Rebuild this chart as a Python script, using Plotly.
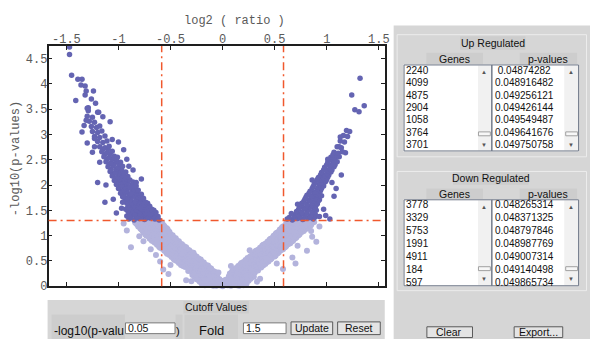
import numpy as np
import plotly.graph_objects as go

W, H = 595, 347

# ---------------- data ----------------
fold_cutoff = 1.5
p_cutoff = 0.05

x_tickvals = [-1.5, -1, -0.5, 0, 0.5, 1, 1.5]
x_ticktext = ["-1.5", "-1", "-0.5", "0", "0.5", "1", "1.5"]
y_tickvals = [0, 0.5, 1, 1.5, 2, 2.5, 3, 3.5, 4, 4.5]
y_ticktext = ["0", "0.5", "1", "1.5", "2", "2.5", "3", "3.5", "4", "4.5"]

# non-significant genes (light)
light_pts = [
    (-0.12, -0.01), (-0.06, 0.01), (0.00, 0.00), (0.05, 0.02), (0.11, -0.01), (0.16, 0.01),
    (-0.20, 0.05), (-0.15, 0.03), (-0.09, 0.04), (-0.03, 0.05), (0.02, 0.03), (0.08, 0.05), (0.13, 0.04), (0.19, 0.06), (0.23, 0.05),
    (-0.22, 0.09), (-0.17, 0.10), (-0.11, 0.08), (-0.06, 0.10), (0.00, 0.09), (0.04, 0.11), (0.10, 0.08), (0.15, 0.10), (0.20, 0.09), (0.25, 0.11),
    (-0.25, 0.14), (-0.19, 0.15), (-0.14, 0.13), (-0.08, 0.15), (-0.03, 0.14), (0.03, 0.13), (0.08, 0.15), (0.13, 0.14), (0.18, 0.16), (0.23, 0.14), (0.27, 0.15),
    (-0.27, 0.19), (-0.22, 0.20), (-0.16, 0.18), (-0.10, 0.20), (-0.05, 0.19), (0.06, 0.20), (0.11, 0.18), (0.16, 0.20), (0.21, 0.19), (0.26, 0.21), (0.30, 0.19),
    (-0.17, 0.02), (-0.09, 0.01), (-0.03, 0.02), (0.08, 0.01), (0.14, 0.02), (0.20, 0.02),
    (-0.19, 0.07), (-0.13, 0.06), (-0.07, 0.07), (0.01, 0.06), (0.06, 0.08), (0.12, 0.07), (0.17, 0.07), (0.22, 0.08),
    (-0.23, 0.12), (-0.16, 0.12), (-0.10, 0.11), (-0.05, 0.13), (0.01, 0.11), (0.06, 0.12), (0.11, 0.12), (0.17, 0.12), (0.22, 0.11),
    (-0.24, 0.17), (-0.19, 0.18), (-0.13, 0.16), (-0.07, 0.17), (0.08, 0.17), (0.14, 0.17), (0.19, 0.18), (0.24, 0.17), (0.28, 0.18),
    (-0.29, 0.22), (-0.25, 0.23), (-0.20, 0.22), (-0.13, 0.23), (-0.07, 0.22), (0.08, 0.23), (0.13, 0.22), (0.18, 0.23), (0.24, 0.22), (0.29, 0.23),
    (-0.29, 0.26), (-0.24, 0.24), (-0.19, 0.27), (-0.14, 0.25), (-0.09, 0.23), (-0.05, 0.26),
    (0.07, 0.25), (0.12, 0.27), (0.17, 0.24), (0.22, 0.26), (0.27, 0.23), (0.31, 0.27),
    (-0.27, 0.28), (-0.22, 0.29), (-0.17, 0.28), (-0.12, 0.29), (-0.07, 0.28),
    (0.09, 0.29), (0.14, 0.28), (0.19, 0.29), (0.24, 0.28), (0.29, 0.29),
    (-0.33, 0.30), (-0.28, 0.32), (-0.23, 0.31), (-0.18, 0.29), (-0.13, 0.32), (-0.09, 0.30),
    (0.10, 0.32), (0.15, 0.30), (0.20, 0.31), (0.25, 0.33), (0.30, 0.30), (0.34, 0.31),
    (-0.31, 0.34), (-0.26, 0.35), (-0.21, 0.34), (-0.16, 0.34), (-0.11, 0.35),
    (0.12, 0.34), (0.17, 0.35), (0.22, 0.34), (0.27, 0.35), (0.32, 0.34),
    (-0.36, 0.38), (-0.31, 0.36), (-0.26, 0.37), (-0.22, 0.39), (-0.17, 0.36), (-0.13, 0.37),
    (0.13, 0.36), (0.18, 0.38), (0.23, 0.37), (0.28, 0.35), (0.33, 0.38), (0.37, 0.37),
    (-0.38, 0.40), (-0.33, 0.41), (-0.28, 0.40), (-0.23, 0.41), (-0.18, 0.40), (-0.14, 0.41),
    (0.15, 0.40), (0.20, 0.41), (0.25, 0.40), (0.30, 0.41), (0.35, 0.40), (0.39, 0.41),
    (-0.40, 0.42), (-0.35, 0.44), (-0.30, 0.43), (-0.25, 0.41), (-0.20, 0.44), (-0.16, 0.42),
    (0.17, 0.43), (0.22, 0.41), (0.27, 0.44), (0.32, 0.43), (0.37, 0.42), (0.41, 0.44),
    (-0.42, 0.46), (-0.37, 0.47), (-0.32, 0.46), (-0.27, 0.47), (-0.22, 0.46), (-0.18, 0.47),
    (0.18, 0.46), (0.23, 0.47), (0.28, 0.46), (0.33, 0.47), (0.38, 0.46), (0.42, 0.47),
    (-0.44, 0.50), (-0.39, 0.48), (-0.34, 0.49), (-0.29, 0.51), (-0.24, 0.48), (-0.20, 0.49),
    (0.20, 0.48), (0.25, 0.50), (0.30, 0.49), (0.35, 0.47), (0.40, 0.50), (0.44, 0.49),
    (-0.46, 0.52), (-0.41, 0.53), (-0.36, 0.52), (-0.31, 0.53), (-0.26, 0.52), (-0.21, 0.53),
    (0.22, 0.52), (0.27, 0.53), (0.32, 0.52), (0.37, 0.53), (0.42, 0.52), (0.46, 0.53),
    (-0.47, 0.54), (-0.42, 0.56), (-0.37, 0.55), (-0.32, 0.53), (-0.27, 0.56), (-0.23, 0.55),
    (0.24, 0.56), (0.29, 0.54), (0.34, 0.55), (0.39, 0.57), (0.44, 0.54), (0.47, 0.55),
    (-0.49, 0.58), (-0.44, 0.59), (-0.39, 0.58), (-0.34, 0.59), (-0.29, 0.58), (-0.25, 0.59),
    (0.26, 0.58), (0.31, 0.59), (0.36, 0.58), (0.41, 0.59), (0.46, 0.58), (0.50, 0.59),
    (-0.51, 0.62), (-0.46, 0.60), (-0.41, 0.61), (-0.36, 0.63), (-0.31, 0.60), (-0.27, 0.61),
    (0.27, 0.60), (0.32, 0.62), (0.37, 0.61), (0.42, 0.59), (0.47, 0.62), (0.51, 0.61),
    (-0.53, 0.64), (-0.48, 0.65), (-0.43, 0.64), (-0.38, 0.65), (-0.33, 0.64), (-0.28, 0.65),
    (0.29, 0.64), (0.34, 0.65), (0.39, 0.64), (0.44, 0.65), (0.49, 0.64), (0.53, 0.65),
    (-0.54, 0.66), (-0.49, 0.68), (-0.44, 0.67), (-0.39, 0.65), (-0.34, 0.68), (-0.30, 0.67),
    (0.31, 0.68), (0.36, 0.66), (0.41, 0.67), (0.46, 0.69), (0.50, 0.66), (0.54, 0.67),
    (-0.56, 0.70), (-0.51, 0.71), (-0.46, 0.70), (-0.41, 0.71), (-0.36, 0.70), (-0.32, 0.71),
    (0.32, 0.70), (0.37, 0.71), (0.42, 0.70), (0.47, 0.71), (0.52, 0.70), (0.56, 0.71),
    (-0.58, 0.74), (-0.53, 0.72), (-0.48, 0.73), (-0.43, 0.75), (-0.38, 0.72), (-0.34, 0.73),
    (0.34, 0.72), (0.39, 0.74), (0.44, 0.73), (0.49, 0.71), (0.54, 0.74), (0.58, 0.73),
    (-0.60, 0.76), (-0.55, 0.77), (-0.50, 0.76), (-0.45, 0.77), (-0.40, 0.76), (-0.35, 0.77),
    (0.36, 0.76), (0.41, 0.77), (0.46, 0.76), (0.51, 0.77), (0.56, 0.76), (0.60, 0.77),
    (-0.61, 0.78), (-0.56, 0.80), (-0.51, 0.79), (-0.46, 0.77), (-0.41, 0.80), (-0.37, 0.79),
    (0.38, 0.80), (0.43, 0.78), (0.48, 0.79), (0.53, 0.81), (0.57, 0.78), (0.61, 0.79),
    (-0.63, 0.82), (-0.58, 0.83), (-0.53, 0.82), (-0.48, 0.83), (-0.43, 0.82), (-0.39, 0.83),
    (0.39, 0.82), (0.44, 0.83), (0.49, 0.82), (0.54, 0.83), (0.59, 0.82), (0.63, 0.83),
    (-0.65, 0.86), (-0.60, 0.84), (-0.55, 0.85), (-0.50, 0.87), (-0.45, 0.84), (-0.41, 0.85),
    (0.41, 0.84), (0.46, 0.86), (0.51, 0.85), (0.56, 0.83), (0.61, 0.86), (0.65, 0.85),
    (-0.66, 0.88), (-0.61, 0.89), (-0.56, 0.88), (-0.51, 0.89), (-0.46, 0.88), (-0.42, 0.89),
    (0.43, 0.88), (0.48, 0.89), (0.53, 0.88), (0.58, 0.89), (0.63, 0.88), (0.67, 0.89),
    (-0.68, 0.90), (-0.63, 0.92), (-0.58, 0.91), (-0.53, 0.89), (-0.48, 0.92), (-0.44, 0.91),
    (0.45, 0.92), (0.50, 0.90), (0.55, 0.91), (0.60, 0.93), (0.64, 0.90), (0.68, 0.91),
    (-0.70, 0.94), (-0.65, 0.95), (-0.60, 0.94), (-0.55, 0.95), (-0.50, 0.94), (-0.45, 0.95),
    (0.46, 0.94), (0.51, 0.95), (0.56, 0.94), (0.61, 0.95), (0.66, 0.94), (0.70, 0.95),
    (-0.71, 0.98), (-0.66, 0.96), (-0.61, 0.97), (-0.56, 0.99), (-0.51, 0.96), (-0.47, 0.97),
    (0.48, 0.96), (0.53, 0.98), (0.58, 0.97), (0.63, 0.95), (0.67, 0.98), (0.71, 0.97),
    (-0.73, 1.00), (-0.68, 1.01), (-0.63, 1.00), (-0.58, 1.01), (-0.53, 1.00), (-0.48, 1.01),
    (0.49, 1.00), (0.54, 1.01), (0.59, 1.00), (0.64, 1.01), (0.69, 1.00), (0.73, 1.01),
    (-0.74, 1.02), (-0.69, 1.04), (-0.64, 1.03), (-0.59, 1.01), (-0.54, 1.04), (-0.50, 1.03),
    (0.51, 1.04), (0.56, 1.02), (0.61, 1.03), (0.66, 1.05), (0.70, 1.02), (0.74, 1.03),
    (-0.76, 1.06), (-0.71, 1.07), (-0.66, 1.06), (-0.61, 1.07), (-0.56, 1.06), (-0.51, 1.07),
    (0.52, 1.06), (0.57, 1.07), (0.62, 1.06), (0.67, 1.07), (0.72, 1.06), (0.76, 1.07),
    (-0.77, 1.10), (-0.72, 1.08), (-0.67, 1.09), (-0.62, 1.11), (-0.57, 1.08), (-0.52, 1.09),
    (0.54, 1.08), (0.59, 1.10), (0.64, 1.09), (0.69, 1.07), (0.74, 1.10), (0.78, 1.09),
    (-0.78, 1.12), (-0.73, 1.13), (-0.68, 1.12), (-0.63, 1.13), (-0.58, 1.12), (-0.53, 1.13),
    (0.55, 1.12), (0.60, 1.13), (0.65, 1.12), (0.70, 1.13), (0.75, 1.12), (0.80, 1.13),
    (-0.79, 1.14), (-0.74, 1.16), (-0.69, 1.15), (-0.64, 1.13), (-0.59, 1.16), (-0.54, 1.15),
    (0.57, 1.16), (0.62, 1.14), (0.67, 1.15), (0.72, 1.17), (0.77, 1.14), (0.82, 1.15),
    (-0.81, 1.18), (-0.76, 1.19), (-0.71, 1.18), (-0.66, 1.19), (-0.61, 1.18), (-0.56, 1.19),
    (0.58, 1.18), (0.63, 1.19), (0.68, 1.18), (0.73, 1.19), (0.78, 1.18), (0.84, 1.19),
    (-0.82, 1.22), (-0.77, 1.20), (-0.72, 1.21), (-0.67, 1.23), (-0.62, 1.20), (-0.57, 1.21),
    (0.60, 1.20), (0.65, 1.22), (0.70, 1.21), (0.75, 1.19), (0.80, 1.22), (0.85, 1.21),
    (-0.83, 1.24), (-0.78, 1.25), (-0.73, 1.24), (-0.68, 1.25), (-0.63, 1.24), (-0.58, 1.25),
    (0.61, 1.24), (0.66, 1.25), (0.71, 1.24), (0.76, 1.25), (0.81, 1.24), (0.86, 1.25),
    (-0.84, 1.26), (-0.79, 1.28), (-0.74, 1.27), (-0.69, 1.25), (-0.64, 1.28), (-0.59, 1.26),
    (0.63, 1.28), (0.68, 1.26), (0.73, 1.27), (0.78, 1.29), (0.83, 1.26), (0.88, 1.27),
    (-0.88, 0.77), (-0.76, 0.89), (-0.69, 0.73), (-0.60, 0.49), (-0.57, 0.33), (-0.52, 0.24),
    (-0.92, 1.10), (-0.95, 1.24), (-0.04, 0.27), (0.67, 0.57), (0.70, 0.45), (0.81, 0.70),
    (0.85, 1.09), (0.93, 1.18), (0.90, 0.88), (-0.35, 0.12), (0.36, 0.15), (0.58, 0.34),
    (-0.50, 0.42), (-0.64, 0.62), (-0.80, 0.99), (0.52, 0.45), (0.72, 0.80), (0.86, 0.98),
    (-0.30, 0.10), (0.33, 0.09), (-0.12, 0.35), (0.08, 0.40), (-0.28, 0.66), (0.26, 0.71),
]

# down-regulated significant genes (dark, left)
down_pts = [
    (-0.90, 1.33), (-0.85, 1.31), (-0.80, 1.34), (-0.75, 1.32), (-0.70, 1.35), (-0.65, 1.33), (-0.61, 1.31),
    (-0.88, 1.36), (-0.83, 1.35), (-0.78, 1.36), (-0.73, 1.35), (-0.68, 1.36), (-0.63, 1.35),
    (-0.92, 1.39), (-0.87, 1.41), (-0.82, 1.38), (-0.77, 1.40), (-0.72, 1.37), (-0.67, 1.40), (-0.62, 1.38),
    (-0.90, 1.43), (-0.85, 1.42), (-0.80, 1.43), (-0.75, 1.42), (-0.70, 1.43), (-0.65, 1.42),
    (-0.89, 1.46), (-0.84, 1.44), (-0.79, 1.47), (-0.74, 1.45), (-0.69, 1.43), (-0.64, 1.46),
    (-0.91, 1.49), (-0.86, 1.50), (-0.81, 1.49), (-0.76, 1.50), (-0.71, 1.49), (-0.66, 1.50),
    (-0.93, 1.52), (-0.88, 1.54), (-0.83, 1.51), (-0.78, 1.53), (-0.73, 1.50), (-0.68, 1.52),
    (-0.91, 1.56), (-0.86, 1.57), (-0.81, 1.56), (-0.76, 1.57), (-0.71, 1.56),
    (-0.90, 1.61), (-0.85, 1.59), (-0.80, 1.62), (-0.75, 1.60), (-0.70, 1.58),
    (-0.92, 1.64), (-0.87, 1.65), (-0.82, 1.64), (-0.77, 1.65), (-0.72, 1.64),
    (-0.94, 1.68), (-0.89, 1.70), (-0.84, 1.67), (-0.79, 1.69), (-0.74, 1.66),
    (-0.93, 1.72), (-0.88, 1.73), (-0.83, 1.72), (-0.78, 1.73),
    (-0.96, 1.77), (-0.91, 1.75), (-0.86, 1.78), (-0.81, 1.76), (-0.76, 1.74),
    (-0.95, 1.80), (-0.90, 1.81), (-0.85, 1.80), (-0.80, 1.81),
    (-0.98, 1.84), (-0.93, 1.86), (-0.88, 1.83), (-0.83, 1.85), (-0.78, 1.82),
    (-0.97, 1.88), (-0.92, 1.89), (-0.87, 1.88), (-0.82, 1.89),
    (-1.00, 1.93), (-0.95, 1.91), (-0.90, 1.94), (-0.85, 1.92), (-0.81, 1.90),
    (-0.99, 1.96), (-0.94, 1.97), (-0.89, 1.96), (-0.84, 1.97),
    (-1.02, 2.01), (-0.97, 1.99), (-0.92, 2.02), (-0.87, 2.00), (-0.83, 1.98),
    (-1.01, 2.05), (-0.96, 2.06), (-0.91, 2.05), (-0.86, 2.06),
    (-1.04, 2.09), (-0.99, 2.11), (-0.94, 2.08), (-0.89, 2.10),
    (-1.03, 2.13), (-0.98, 2.14), (-0.93, 2.13),
    (-1.06, 2.18), (-1.01, 2.16), (-0.96, 2.19), (-0.91, 2.17),
    (-1.05, 2.22), (-1.00, 2.23), (-0.95, 2.22),
    (-1.08, 2.27), (-1.03, 2.25), (-0.98, 2.28), (-0.93, 2.26),
    (-1.07, 2.31), (-1.02, 2.32), (-0.97, 2.31),
    (-1.10, 2.36), (-1.05, 2.38), (-1.00, 2.35), (-0.96, 2.37),
    (-1.09, 2.41), (-1.04, 2.42), (-0.99, 2.41),
    (-1.12, 2.46), (-1.07, 2.44), (-1.02, 2.47), (-0.98, 2.45),
    (-1.11, 2.51), (-1.06, 2.52), (-1.02, 2.51),
    (-1.14, 2.56), (-1.09, 2.54), (-1.04, 2.57), (-1.01, 2.55),
    (-1.13, 2.61), (-1.08, 2.62),
    (-1.16, 2.66), (-1.11, 2.64), (-1.06, 2.67),
    (-1.15, 2.71), (-1.10, 2.72),
    (-1.18, 2.76), (-1.13, 2.74), (-1.09, 2.77),
    (-1.20, 2.86), (-1.15, 2.84), (-1.11, 2.87),
    (-1.23, 2.96), (-1.18, 2.94), (-1.13, 2.97),
    (-1.25, 3.06), (-1.20, 3.04), (-1.16, 3.07),
    (-1.26, 3.16), (-1.21, 3.14), (-1.18, 3.17),
    (-1.28, 3.26), (-1.23, 3.24), (-1.30, 3.36), (-1.25, 3.34),
    (-1.47, 4.73), (-1.47, 4.58), (-1.45, 4.17), (-1.39, 4.09), (-1.35, 4.09), (-1.36, 3.98),
    (-1.32, 3.96), (-1.31, 3.86), (-1.24, 3.86), (-1.32, 3.78), (-1.41, 3.67), (-1.29, 3.53),
    (-1.29, 3.47), (-1.20, 3.44), (-1.30, 3.52), (-1.19, 3.44), (-1.31, 3.28), (-1.33, 3.18),
    (-1.30, 2.83), (-1.23, 2.92), (-1.23, 2.76), (-1.20, 2.05), (-1.13, 1.66), (-0.96, 1.66),
    (-1.06, 2.90), (-0.92, 2.51), (-0.90, 2.37), (-0.83, 2.05), (-0.97, 1.54),
    (-1.02, 1.45), (-1.05, 1.72), (-1.12, 2.00), (-0.78, 2.12), (-0.86, 2.30), (-1.18, 2.45),
    (-0.95, 2.70), (-1.25, 2.65), (-1.00, 2.85), (-1.35, 3.05), (-1.08, 3.25), (-1.15, 3.35),
    (-1.22, 3.62), (-1.26, 3.70),
]

# up-regulated significant genes (dark, right)
up_pts = [
    (0.62, 1.33), (0.67, 1.31), (0.72, 1.34), (0.77, 1.32), (0.82, 1.35), (0.87, 1.33),
    (0.64, 1.36), (0.69, 1.37), (0.74, 1.36), (0.79, 1.37), (0.84, 1.36), (0.89, 1.37),
    (0.69, 1.40), (0.74, 1.38), (0.79, 1.41), (0.84, 1.39), (0.89, 1.42),
    (0.66, 1.44), (0.71, 1.45), (0.76, 1.44), (0.81, 1.45), (0.86, 1.44),
    (0.71, 1.48), (0.76, 1.46), (0.81, 1.49), (0.86, 1.47), (0.90, 1.50),
    (0.73, 1.52), (0.78, 1.53), (0.83, 1.52), (0.88, 1.53),
    (0.74, 1.56), (0.79, 1.54), (0.84, 1.57), (0.89, 1.55),
    (0.76, 1.60), (0.81, 1.61), (0.86, 1.60), (0.90, 1.61),
    (0.76, 1.64), (0.81, 1.62), (0.86, 1.65), (0.91, 1.63),
    (0.78, 1.68), (0.83, 1.69), (0.88, 1.68), (0.92, 1.69),
    (0.79, 1.72), (0.84, 1.70), (0.89, 1.73), (0.93, 1.71),
    (0.80, 1.76), (0.85, 1.77), (0.90, 1.76),
    (0.81, 1.80), (0.86, 1.78), (0.91, 1.81), (0.95, 1.79),
    (0.83, 1.84), (0.88, 1.85), (0.92, 1.84),
    (0.84, 1.88), (0.89, 1.86), (0.94, 1.89),
    (0.86, 1.93), (0.91, 1.92), (0.95, 1.93),
    (0.87, 1.97), (0.92, 1.95), (0.97, 1.98),
    (0.88, 2.02), (0.93, 2.01), (0.97, 2.02),
    (0.89, 2.06), (0.94, 2.04), (0.99, 2.07),
    (0.91, 2.11), (0.95, 2.10), (1.00, 2.11),
    (0.92, 2.15), (0.97, 2.13), (1.01, 2.16),
    (0.94, 2.20), (0.98, 2.19), (1.02, 2.20),
    (0.95, 2.25), (1.00, 2.23), (1.04, 2.26),
    (0.97, 2.30), (1.01, 2.29), (1.05, 2.30),
    (0.98, 2.35), (1.03, 2.33), (1.07, 2.36),
    (1.00, 2.40), (1.04, 2.39), (1.08, 2.40),
    (1.01, 2.45), (1.06, 2.43), (1.10, 2.46),
    (1.03, 2.50), (1.07, 2.49),
    (1.04, 2.55), (1.08, 2.53), (1.12, 2.56),
    (1.06, 2.60), (1.10, 2.59),
    (1.07, 2.65), (1.11, 2.63), (1.15, 2.66),
    (1.10, 2.76), (1.14, 2.74), (1.13, 2.87), (1.17, 2.85),
    (1.16, 2.98), (1.20, 2.96), (1.19, 3.08), (1.22, 3.06),
    (1.24, 3.78), (1.32, 4.11), (1.27, 3.49), (1.31, 3.45), (1.36, 3.57),
    (1.13, 2.95), (1.12, 2.76), (1.18, 2.64), (1.01, 2.51), (1.09, 1.93), (1.07, 1.78),
    (0.99, 1.40), (1.03, 1.33), (0.93, 1.38), (0.97, 1.52), (1.05, 2.05), (0.86, 2.10),
    (0.72, 1.62), (1.14, 2.20),
]

up_genes = ["2240", "4099", "4875", "2904", "1058", "3764", "3701"]
up_pvals = [" 0.04874282", "0.048916482", "0.049256121", "0.049426144",
            "0.049549487", "0.049641676", "0.049750758"]
down_genes = ["3778", "3329", "5753", "1991", "4911", "184", "597"]
down_pvals = ["0.048265314", "0.048371325", "0.048797846", "0.048987769",
              "0.049007314", "0.049140498", "0.049865734"]

# ---------------- figure ----------------
def px(x):
    return x / W


def py(y):
    return 1 - y / H


LIGHT = "#b3b3dc"
DARK = "#6464b2"
RED = "#f0582d"
PANEL = "#d6d6d6"
LABELBG = "#cdcdcd"
MONO = "Liberation Mono"
SANS = "Liberation Sans"

fig = go.Figure()
fig.add_trace(go.Scatter(
    x=[p[0] for p in light_pts], y=[p[1] for p in light_pts], mode="markers",
    marker=dict(size=6, color=LIGHT, line=dict(width=0)), cliponaxis=False,
    hoverinfo="skip"))
fig.add_trace(go.Scatter(
    x=[p[0] for p in down_pts] + [p[0] for p in up_pts],
    y=[p[1] for p in down_pts] + [p[1] for p in up_pts], mode="markers",
    marker=dict(size=5.5, color=DARK, line=dict(width=0)), cliponaxis=False,
    hoverinfo="skip"))

xcut = float(np.log2(fold_cutoff))
ycut = float(-np.log10(p_cutoff))

shapes = []


def rect(x0, y0, x1, y1, fill=None, line=None, lw=1, layer="below"):
    shapes.append(dict(type="rect", xref="paper", yref="paper",
                       x0=px(x0), x1=px(x1), y0=py(y1), y1=py(y0),
                       fillcolor=fill if fill else "rgba(0,0,0,0)",
                       line=dict(color=line if line else "rgba(0,0,0,0)", width=lw if line else 0),
                       layer=layer))


rect(397, 26, 595, 347, fill=PANEL)
rect(48, 307, 388, 347, fill=PANEL)
# up panel
rect(400.5, 35.5, 591.5, 160.5, line="#ececec")
rect(464, 37, 530, 51, fill=LABELBG)
rect(430, 54, 487, 66, fill=LABELBG)
rect(524, 54, 582, 66, fill=LABELBG)
# down panel
rect(400.5, 175.5, 591.5, 297.5, line="#ececec")
rect(457, 176, 533, 189, fill=LABELBG)
rect(430, 193, 487, 204, fill=LABELBG)
rect(524, 193, 582, 204, fill=LABELBG)
for (ty, by) in [(66, 155), (204, 293)]:
    rect(407, ty, 496, by, fill="white")
    rect(496, ty, 584, by, fill="white")
    rect(482, ty + 1, 495, by - 1, fill="#f1f1f1")
    rect(569, ty + 1, 583, by - 1, fill="#f1f1f1")
    rect(407.5, ty + 0.5, 496, by - 0.5, line="#6d7686")
    rect(496, ty + 0.5, 583.5, by - 0.5, line="#6d7686")
    thumb = by - 20
    rect(482.5, thumb, 494.5, thumb + 4, fill="#f7f7f7", line="#a0a0a0")
    rect(570.5, thumb, 582.5, thumb + 4, fill="#f7f7f7", line="#a0a0a0")
# buttons
for (x0, y0, x1, y1) in [(430, 334, 477, 346), (518, 334, 568, 346),
                         (293, 329, 336, 343), (340, 329, 384, 343)]:
    rect(x0 + 0.5, y0 + 0.5, x1 - 0.5, y1 - 0.5, fill="#e4e4e4", line="#5a5a5a")
# bottom panel labels
rect(185, 308, 251, 321, fill=LABELBG)
rect(52, 322, 126, 347, fill=LABELBG)
rect(177, 322, 184, 347, fill=LABELBG)
rect(186, 322, 240, 347, fill=LABELBG)
rect(126.5, 330.5, 176.5, 341.5, fill="white", line="#7a7a7a")
rect(245.5, 330.5, 288.5, 341.5, fill="white", line="#7a7a7a")

# cutoff lines (on top of points)
dash = "8px,4px,2px,4px"
for xv in (-xcut, xcut):
    shapes.append(dict(type="line", xref="x", yref="y domain", x0=xv, x1=xv, y0=0, y1=1,
                       line=dict(color=RED, width=1.5, dash=dash), layer="above"))
shapes.append(dict(type="line", xref="x domain", yref="y", x0=0, x1=1, y0=ycut, y1=ycut,
                   line=dict(color=RED, width=1.5, dash=dash), layer="above"))

ann = []


def text(x, y, s, size=10.5, family=SANS, color="#111", anchor="left", angle=0):
    ann.append(dict(x=px(x), y=py(y), xref="paper", yref="paper", text=s, showarrow=False,
                    xanchor=anchor, yanchor="middle", textangle=angle,
                    font=dict(family=family, size=size, color=color), borderpad=0))


text(236, 21, "log2 ( ratio )", size=12, family=MONO, color="#5a5a5a", anchor="center")
text(16, 162, "-log10(p-values)", size=12, family=MONO, color="#5a5a5a", anchor="center", angle=-90)

text(497, 44, "Up Regulated", anchor="center")
text(458, 60, "Genes", anchor="center")
text(553, 60, "p-values", anchor="center")
text(495, 182, "Down Regulated", anchor="center")
text(458, 199, "Genes", anchor="center")
text(553, 199, "p-values", anchor="center")
for i in range(7):
    y = 72 + 12.7 * i
    text(408, y, up_genes[i], size=10)
    text(498, y, up_pvals[i], size=10)
    y2 = 209.5 + 13.3 * i
    text(408, y2, down_genes[i], size=10)
    text(498, y2, down_pvals[i], size=10)
for (ax, ty, by) in [(488, 66, 155), (576, 66, 155), (488, 204, 293), (576, 204, 293)]:
    text(ax, ty + 8, "▲", size=6, color="#555", anchor="center")
    text(ax, by - 7, "▼", size=6, color="#555", anchor="center")

text(453, 340, "Clear", anchor="center")
text(543, 340, "Export...", anchor="center")
text(218, 314.5, "Cutoff Values", anchor="center")
text(53, 338.5, "-log10(p-valu", size=12)
text(128, 336, "0.05", size=10.5)
text(180, 338.5, ")", size=11, anchor="center")
text(213, 338, "Fold", size=13, anchor="center")
text(247, 336, "1.5", size=10.5)
text(314.5, 336, "Update", anchor="center")
text(362, 336, "Reset", anchor="center")

axis_common = dict(showgrid=False, zeroline=False, showline=True, linecolor="#1e1e1e",
                   linewidth=1.5, ticks="inside", ticklen=4, tickcolor="#1e1e1e",
                   tickwidth=1, mirror="ticks",
                   tickfont=dict(family=MONO, size=12, color="#5a5a5a"))

fig.update_layout(
    width=W, height=H, autosize=False, margin=dict(l=0, r=0, t=0, b=0),
    paper_bgcolor="white", plot_bgcolor="white", showlegend=False,
    xaxis=dict(domain=[px(49), px(388)], range=[-1.671, 1.557], side="top",
               tickmode="array", tickvals=x_tickvals, ticktext=x_ticktext,
               ticklabelstandoff=-4, **axis_common),
    yaxis=dict(domain=[py(293), py(47)], range=[0, 4.751],
               tickmode="array", tickvals=y_tickvals, ticktext=y_ticktext,
               ticklabelstandoff=-3, **axis_common),
    shapes=shapes, annotations=ann,
)

fig.write_html("out.html", config={"displayModeBar": False})
